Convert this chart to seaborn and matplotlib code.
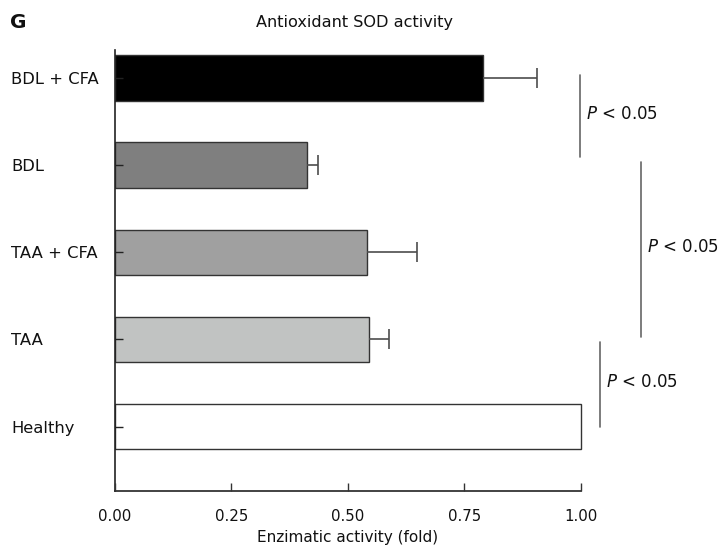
import numpy as np
import pandas as pd
import matplotlib
matplotlib.use("Agg")
import matplotlib.pyplot as plt
import seaborn as sns

# SOD activity per group (fold of healthy), with SEM
groups = ["BDL + CFA", "BDL", "TAA + CFA", "TAA", "Healthy"]
activity = [0.789, 0.411, 0.540, 0.546, 1.00]
sem = [0.116, 0.024, 0.108, 0.041, 0.0]
bar_colors = ["#000000", "#7f7f7f", "#a0a0a0", "#c1c3c2", "#ffffff"]
xticks = [0.00, 0.25, 0.50, 0.75, 1.00]
sig_label = "$P$ < 0.05"

sns.set_theme(style="white")
plt.rcParams["font.family"] = ["DejaVu Sans"]
plt.rcParams["mathtext.fontset"] = "dejavusans"

df = pd.DataFrame({"group": groups, "activity": activity})

fig = plt.figure(figsize=(7.23, 5.52), dpi=100)
ax = fig.add_axes([115 / 723, 61 / 552, 605.8 / 723, 441 / 552])

sns.barplot(data=df, x="activity", y="group", hue="group", palette=bar_colors,
            order=groups, hue_order=groups, legend=False, width=0.52,
            edgecolor="#333333", linewidth=1.0, errorbar=None, ax=ax)

# one-sided (upper) error bars, only where an SEM exists
pos = np.arange(len(groups))
act = np.asarray(activity)
err = np.asarray(sem)
has_err = err > 0
_, caps, _ = ax.errorbar(act[has_err], pos[has_err],
                         xerr=[np.zeros(has_err.sum()), err[has_err]], fmt="none",
                         ecolor="#4d4d4d", elinewidth=1.2, capsize=7.5,
                         capthick=1.2, zorder=3)
caps[0].set_visible(False)

ax.set_xlim(0, 1.3)
ax.set_ylim(4.74, -0.32)
ax.set_xticks(xticks)
ax.set_xticklabels([f"{t:.2f}" for t in xticks], fontsize=10.8)
ax.set_yticks(pos)
ax.set_yticklabels(groups, fontsize=11.8)
for lab in ax.get_yticklabels():
    lab.set_horizontalalignment("left")

ax.tick_params(axis="x", direction="in", length=6, width=1.0, color="#333333",
               bottom=True, pad=13, labelcolor="#111111")
ax.tick_params(axis="y", direction="in", length=6, width=1.0, color="#222222",
               left=True, pad=74.9, labelcolor="#111111")
ax.set_axisbelow(False)

for side in ["top", "right"]:
    ax.spines[side].set_visible(False)
ax.spines["left"].set_color("#222222")
ax.spines["bottom"].set_color("#222222")
ax.spines["left"].set_linewidth(1.2)
ax.spines["bottom"].set_linewidth(1.2)
ax.spines["bottom"].set_bounds(0, 1.0)

ax.set_xlabel("Enzimatic activity (fold)", fontsize=11, color="#111111")
ax.xaxis.set_label_coords((348 - 115) / 605.8, -39 / 441)
ax.set_ylabel("")

# significance brackets: (top, bottom, x position) in data units
brackets = [(-0.03, 0.91, 0.998), (0.97, 2.97, 1.129), (3.03, 4.01, 1.041)]
for y0, y1, xb in brackets:
    ax.plot([xb, xb], [y0, y1], color="#666666", lw=1.2, clip_on=False)
    ax.text(xb + 0.012, (y0 + y1) / 2 - 0.03, sig_label, fontsize=12,
            va="center", ha="left", color="#111111", clip_on=False)

fig.text(355 / 723, 1 - 22 / 552, "Antioxidant SOD activity", fontsize=11.6,
         ha="center", va="center", color="#111111")
fig.text(10 / 723, 1 - 22 / 552, "G", fontsize=14.5, fontweight="bold",
         ha="left", va="center", color="#111111")

fig.savefig("out.png", dpi=100)
